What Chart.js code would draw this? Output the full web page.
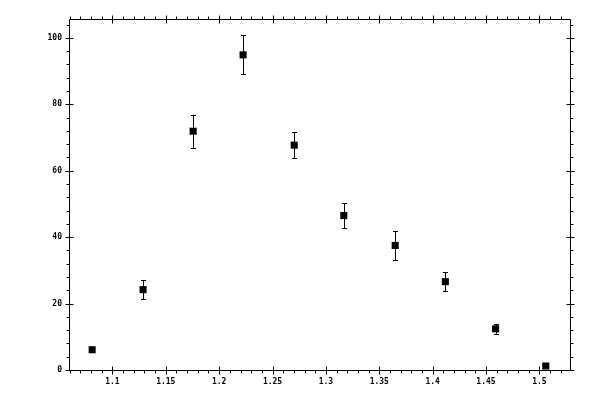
<!DOCTYPE html>
<html>
<head>
<meta charset="utf-8">
<script src="https://cdn.jsdelivr.net/npm/chart.js@4"></script>
<style>
    html, body { margin: 0; padding: 0; background: #fff; }
    #chart { display: block; }
</style>
</head>
<body>
<canvas id="chart" width="600" height="400"></canvas>
<script>
// Data
var xValues = [1.081, 1.1287, 1.1756, 1.2224, 1.2703, 1.3168, 1.3649, 1.4119, 1.459, 1.506];
var yValues = [6.1, 24.2, 71.9, 94.9, 67.7, 46.5, 37.5, 26.6, 12.4, 1.2];
var yErrors = [0.6, 2.9, 5.0, 5.9, 4.0, 3.7, 4.4, 2.8, 1.5, 0.3];

// Tick labels
var xTickValues = [1.1, 1.15, 1.2, 1.25, 1.3, 1.35, 1.4, 1.45, 1.5];
var xTickLabels = ['1.1', '1.15', '1.2', '1.25', '1.3', '1.35', '1.4', '1.45', '1.5'];
var yTickValues = [0, 20, 40, 60, 80, 100];
var yTickLabels = ['0', '20', '40', '60', '80', '100'];

var xMin = 1.0593, xMax = 1.5287, xMinor = 0.01;
var yMin = 0, yMax = 105.7, yMinor = 4;

var points = xValues.map(function(x, i) {
    return { x: x, y: yValues[i] };
});

// Box frame, ticks on all four sides and error bars
var framePlugin = {
    id: 'frame',
    beforeDatasetsDraw: function(chart) {
        var ctx = chart.ctx;
        var xs = chart.scales.x, ys = chart.scales.y;
        ctx.save();
        ctx.strokeStyle = '#000';
        ctx.lineWidth = 1;
        ctx.beginPath();
        points.forEach(function(p, i) {
            var px = Math.round(xs.getPixelForValue(p.x)) + 0.5;
            var top = ys.getPixelForValue(p.y + yErrors[i]);
            var bot = ys.getPixelForValue(p.y - yErrors[i]);
            ctx.moveTo(px, top); ctx.lineTo(px, bot);
            ctx.moveTo(px - 2.5, Math.round(top) + 0.5); ctx.lineTo(px + 2.5, Math.round(top) + 0.5);
            ctx.moveTo(px - 2.5, Math.round(bot) + 0.5); ctx.lineTo(px + 2.5, Math.round(bot) + 0.5);
        });
        ctx.stroke();
        ctx.restore();
    },
    afterDraw: function(chart) {
        var ctx = chart.ctx;
        var a = chart.chartArea;
        var xs = chart.scales.x, ys = chart.scales.y;
        var L = a.left + 0.5, R = a.right + 0.5, T = a.top + 0.5, B = a.bottom + 0.5;
        ctx.save();
        ctx.strokeStyle = '#000';
        ctx.lineWidth = 1;
        ctx.beginPath();
        ctx.rect(L, T, R - L, B - T);

        var v, px, major;
        for (v = Math.ceil(xMin / xMinor) * xMinor; v <= xMax + 1e-9; v += xMinor) {
            px = Math.round(xs.getPixelForValue(v)) + 0.5;
            major = xTickValues.some(function(t) { return Math.abs(t - v) < 1e-6; });
            if (major) {
                ctx.moveTo(px, B - 4); ctx.lineTo(px, B + 4);
                ctx.moveTo(px, T - 4); ctx.lineTo(px, T + 4);
            } else {
                ctx.moveTo(px, B); ctx.lineTo(px, B + 3);
                ctx.moveTo(px, T); ctx.lineTo(px, T - 3);
            }
        }
        for (v = yMin; v <= yMax + 1e-9; v += yMinor) {
            px = Math.round(ys.getPixelForValue(v)) + 0.5;
            major = yTickValues.indexOf(v) !== -1;
            if (major) {
                ctx.moveTo(L - 4, px); ctx.lineTo(L + 4, px);
                ctx.moveTo(R - 4, px); ctx.lineTo(R + 4, px);
            } else {
                ctx.moveTo(L, px); ctx.lineTo(L - 3, px);
                ctx.moveTo(R, px); ctx.lineTo(R + 3, px);
            }
        }
        ctx.stroke();
        ctx.restore();
    }
};

var tickFont = { family: 'DejaVu Sans Mono', size: 8, weight: 'bold' };

new Chart(document.getElementById('chart').getContext('2d'), {
    type: 'scatter',
    data: {
        datasets: [{
            data: points,
            pointStyle: 'rect',
            pointRadius: 5,
            pointHoverRadius: 5,
            pointBorderWidth: 0,
            backgroundColor: '#000',
            borderColor: '#000'
        }]
    },
    options: {
        responsive: false,
        animation: false,
        devicePixelRatio: 1,
        layout: { padding: { top: 19, right: 30, left: 0, bottom: 0 } },
        plugins: {
            legend: { display: false },
            tooltip: { enabled: false }
        },
        scales: {
            x: {
                type: 'linear',
                min: xMin,
                max: xMax,
                grid: { display: false, drawTicks: false },
                border: { display: false },
                afterBuildTicks: function(scale) {
                    scale.ticks = xTickValues.map(function(v) { return { value: v }; });
                },
                afterFit: function(scale) { scale.height = 30; },
                ticks: {
                    font: tickFont,
                    color: '#000',
                    padding: 7,
                    autoSkip: false,
                    maxRotation: 0,
                    callback: function(value, index) { return xTickLabels[index]; }
                }
            },
            y: {
                type: 'linear',
                min: yMin,
                max: yMax,
                grid: { display: false, drawTicks: false },
                border: { display: false },
                afterBuildTicks: function(scale) {
                    scale.ticks = yTickValues.map(function(v) { return { value: v }; });
                },
                afterFit: function(scale) { scale.width = 69; },
                ticks: {
                    font: tickFont,
                    color: '#000',
                    padding: 7,
                    callback: function(value, index) { return yTickLabels[index]; }
                }
            }
        }
    },
    plugins: [framePlugin]
});
</script>
</body>
</html>
